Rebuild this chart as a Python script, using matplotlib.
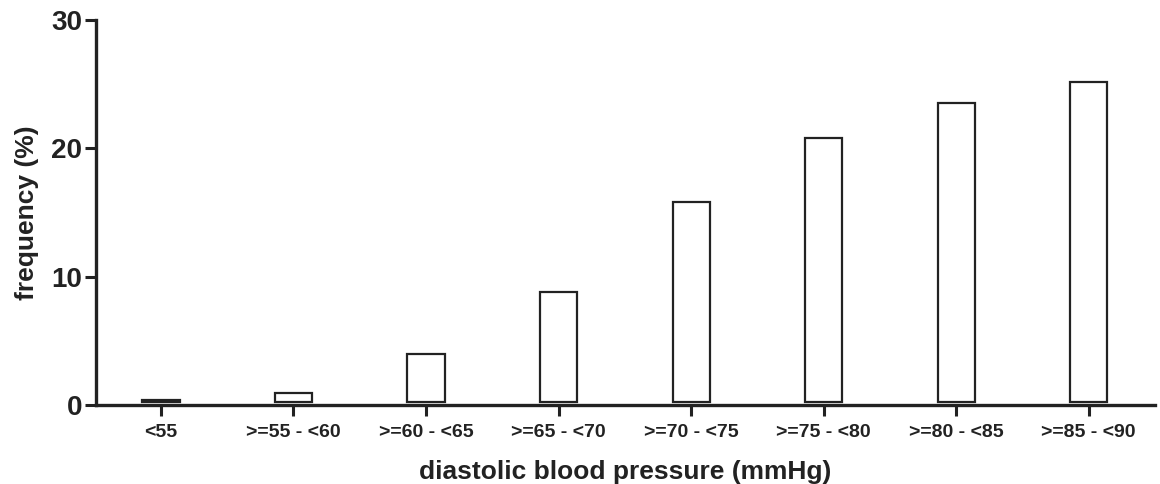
import matplotlib
matplotlib.use("Agg")
import matplotlib.pyplot as plt
import numpy as np

categories = ["<55", ">=55 - <60", ">=60 - <65", ">=65 - <70",
              ">=70 - <75", ">=75 - <80", ">=80 - <85", ">=85 - <90"]
frequency = [0.4, 0.95, 4.0, 8.8, 15.8, 20.8, 23.5, 25.2]
yticks = [0, 10, 20, 30]

plt.rcParams['font.family'] = ['Liberation Sans', 'DejaVu Sans']

fig = plt.figure(figsize=(11.6, 4.84), dpi=100)
ax = fig.add_axes([96/1160, 79/484, 1059/1160, 385/484])

x = np.arange(len(categories))
base = 0.2
vals = np.array(frequency) - base
ax.bar(x, vals, bottom=base, width=0.28, facecolor='white',
       edgecolor='#222222', linewidth=1.6)

ax.set_xlim(-0.49, 7.5)
ax.set_ylim(0, 30)
ax.set_yticks(yticks)
ax.set_xticks(x)
ax.set_xticklabels(categories, fontsize=14, fontweight='bold', color='#222222')
ax.tick_params(axis='y', labelsize=20, width=2.2, length=8, colors='#222222', pad=2)
for lab in ax.get_yticklabels():
    lab.set_fontweight('bold')
ax.tick_params(axis='x', width=2.2, length=8, colors='#222222', pad=6)

for s in ['top', 'right']:
    ax.spines[s].set_visible(False)
for s in ['left', 'bottom']:
    ax.spines[s].set_linewidth(2.4)
    ax.spines[s].set_color('#222222')

ax.set_xlabel("diastolic blood pressure (mmHg)", fontsize=19, fontweight='bold',
              color='#222222', labelpad=13)
ax.set_ylabel("frequency (%)", fontsize=19, fontweight='bold', color='#222222',
              labelpad=9)

fig.savefig("out.png", dpi=100)
